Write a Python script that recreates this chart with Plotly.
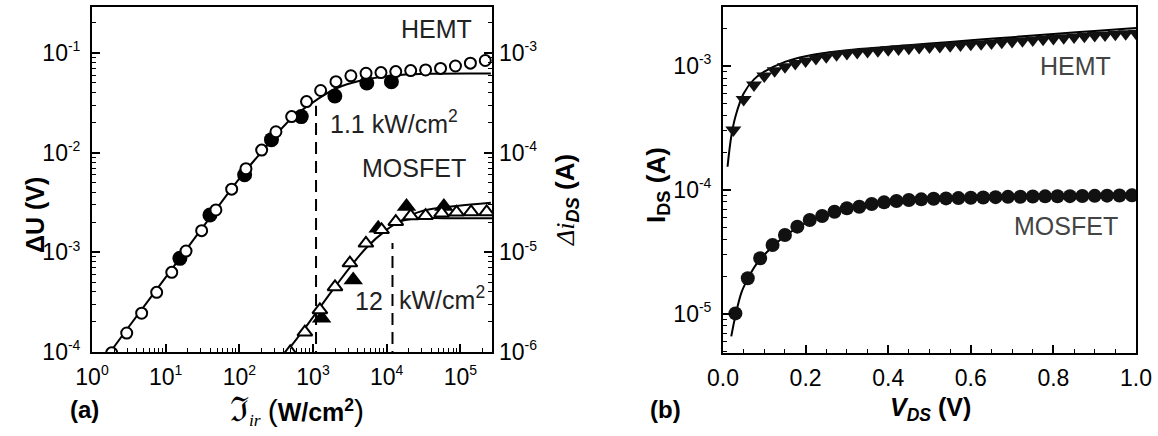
import plotly.graph_objects as go

# ---------------- Panel (a) data ----------------
hemt_open_x = [1.85, 2.96, 4.72, 7.55, 12.1, 18.9, 30.8, 48.1, 78.7, 123, 201, 314, 513, 817,
               1270, 2050, 3270, 5250, 8370, 13300, 21200, 33800, 53900, 85900, 1.37e5, 2.18e5]
hemt_open_y = [9.8e-5, 1.55e-4, 2.45e-4, 3.97e-4, 6.3e-4, 1.03e-3, 1.65e-3, 2.66e-3, 4.3e-3, 6.9e-3,
               1.06e-2, 1.62e-2, 2.3e-2, 3.25e-2, 4.2e-2, 5.15e-2, 5.9e-2, 6.25e-2, 6.35e-2, 6.5e-2,
               6.65e-2, 6.75e-2, 7.0e-2, 7.4e-2, 7.9e-2, 8.4e-2]
hemt_filled_x = [15.6, 39.9, 118, 273, 693, 1980, 5380, 11600]
hemt_filled_y = [8.7e-4, 2.37e-3, 6.0e-3, 1.35e-2, 2.3e-2, 3.7e-2, 5.0e-2, 5.15e-2]
hemt_fit_x = [1.2, 1.42, 3, 10, 30, 100, 201, 513, 1120, 2050, 5330, 15100, 47600, 2.6e5]
hemt_fit_y = [6.7e-5, 8.0e-5, 1.7e-4, 5.6e-4, 1.68e-3, 5.5e-3, 1.02e-2, 2.21e-2, 3.38e-2, 4.4e-2,
              5.44e-2, 6.02e-2, 6.2e-2, 6.22e-2]

mos_open_x = [490, 776, 1240, 1990, 3170, 5230, 8530, 13300, 21200, 33800, 55700, 88900, 1.4e5, 2.28e5]
mos_open_y = [1.0e-6, 1.58e-6, 2.64e-6, 4.5e-6, 7.8e-6, 1.23e-5, 1.68e-5, 2.03e-5, 2.32e-5, 2.33e-5,
              2.47e-5, 2.52e-5, 2.54e-5, 2.54e-5]
mos_filled_x = [1310, 3515, 7680, 18600, 59800]
mos_filled_y = [2.18e-6, 5.28e-6, 1.74e-5, 2.88e-5, 2.88e-5]
mos_fit_x = [380, 438, 776, 1990, 5230, 9960, 15100, 25500, 60000, 2.7e5]
mos_fit_y = [8.5e-7, 1.0e-6, 1.73e-6, 4.5e-6, 1.1e-5, 1.68e-5, 2.03e-5, 2.19e-5, 2.2e-5, 2.2e-5]
mos_fit2_x = [15100, 20000, 31300, 88900, 2.6e5]
mos_fit2_y = [2.03e-5, 2.3e-5, 2.62e-5, 2.92e-5, 3.15e-5]

sat_hemt = 1100      # W/cm^2
sat_mos = 12000      # W/cm^2
sat_hemt_top = 2.95e-2
sat_mos_top = 1.24e-3
y_bottom = 5e-5

# ---------------- Panel (b) data ----------------
hemt_v = [0.025, 0.05, 0.075, 0.1, 0.125, 0.15, 0.175, 0.2, 0.225, 0.25, 0.275, 0.3, 0.325, 0.35,
          0.375, 0.4, 0.425, 0.45, 0.475, 0.5, 0.525, 0.55, 0.575, 0.6, 0.625, 0.65, 0.675, 0.7,
          0.725, 0.75, 0.775, 0.8, 0.825, 0.85, 0.875, 0.9, 0.925, 0.95, 0.975, 1.0]
hemt_i = [3.05e-4, 5.38e-4, 7.03e-4, 8.3e-4, 9.16e-4, 9.88e-4, 1.05e-3, 1.10e-3, 1.15e-3, 1.19e-3,
          1.23e-3, 1.26e-3, 1.285e-3, 1.31e-3, 1.33e-3, 1.35e-3, 1.37e-3, 1.39e-3, 1.41e-3, 1.425e-3,
          1.44e-3, 1.46e-3, 1.475e-3, 1.495e-3, 1.51e-3, 1.535e-3, 1.555e-3, 1.58e-3, 1.60e-3, 1.62e-3,
          1.645e-3, 1.665e-3, 1.69e-3, 1.715e-3, 1.74e-3, 1.76e-3, 1.78e-3, 1.80e-3, 1.82e-3, 1.84e-3]
hemt_fit_v = [0.011, 0.02, 0.03, 0.05, 0.075, 0.1, 0.15, 0.2, 0.3, 0.4, 0.5, 0.6, 0.7, 0.8, 0.9, 1.0]
hemt_fit_i = [1.54e-4, 2.7e-4, 3.9e-4, 6.0e-4, 7.8e-4, 9.0e-4, 1.08e-3, 1.2e-3, 1.34e-3, 1.43e-3,
              1.52e-3, 1.61e-3, 1.71e-3, 1.81e-3, 1.92e-3, 2.03e-3]

mos_v = [0.03, 0.06, 0.09, 0.12, 0.15, 0.18, 0.21, 0.24, 0.27, 0.30, 0.33, 0.36, 0.39, 0.42, 0.45,
         0.48, 0.51, 0.54, 0.57, 0.60, 0.63, 0.66, 0.69, 0.72, 0.75, 0.78, 0.81, 0.84, 0.87, 0.90,
         0.93, 0.96, 0.99]
mos_i = [1.01e-5, 1.94e-5, 2.81e-5, 3.6e-5, 4.33e-5, 5.06e-5, 5.73e-5, 6.17e-5, 6.68e-5, 7.12e-5,
         7.33e-5, 7.7e-5, 7.95e-5, 8.14e-5, 8.3e-5, 8.4e-5, 8.5e-5, 8.55e-5, 8.6e-5, 8.65e-5,
         8.7e-5, 8.75e-5, 8.8e-5, 8.82e-5, 8.85e-5, 8.88e-5, 8.9e-5, 8.92e-5, 8.95e-5, 8.97e-5,
         9.0e-5, 9.02e-5, 9.05e-5]
mos_fit_v = [0.02, 0.031, 0.045, 0.061, 0.08, 0.1, 0.13, 0.16, 0.2, 0.25, 0.3, 0.4, 0.5, 0.6, 0.8, 1.0]
mos_fit_i = [6.6e-6, 1.0e-5, 1.5e-5, 1.95e-5, 2.5e-5, 3.0e-5, 3.75e-5, 4.5e-5, 5.4e-5, 6.3e-5,
             7.0e-5, 7.9e-5, 8.4e-5, 8.65e-5, 8.9e-5, 9.05e-5]


def pow_label(e):
    return "10<sup><span style='font-size:14px'>%d</span></sup>" % e


xa_ticks = [1, 10, 100, 1e3, 1e4, 1e5]
xa_text = [pow_label(i) for i in range(6)]
ya_ticks = [1e-4, 1e-3, 1e-2, 1e-1]
ya_text = [pow_label(i) for i in (-4, -3, -2, -1)]
y2_ticks = [1e-6, 1e-5, 1e-4, 1e-3]
y2_text = [pow_label(i) for i in (-6, -5, -4, -3)]
yb_ticks = [1e-5, 1e-4, 1e-3]
yb_text = [pow_label(i) for i in (-5, -4, -3)]
xb_ticks = [0.0, 0.2, 0.4, 0.6, 0.8, 1.0]
xb_text = ["0.0", "0.2", "0.4", "0.6", "0.8", "1.0"]


def minor_log(d0, d1):
    return [k * 10.0 ** d for d in range(d0, d1 + 1) for k in range(2, 10)]


FONT = "Liberation Sans, Arial, sans-serif"
fig = go.Figure()

line = dict(color="black", width=2, shape="spline")
# panel (a)
fig.add_trace(go.Scatter(x=hemt_fit_x, y=hemt_fit_y, mode="lines", line=line, xaxis="x", yaxis="y"))
fig.add_trace(go.Scatter(x=[sat_hemt, sat_hemt], y=[y_bottom, sat_hemt_top], mode="lines",
                         line=dict(color="black", width=2, dash="12px,7px"), xaxis="x", yaxis="y"))
fig.add_trace(go.Scatter(x=[sat_mos, sat_mos], y=[y_bottom, sat_mos_top], mode="lines",
                         line=dict(color="black", width=2, dash="12px,7px"), xaxis="x", yaxis="y"))
fig.add_trace(go.Scatter(x=hemt_filled_x, y=hemt_filled_y, mode="markers",
                         marker=dict(symbol="circle", size=15, color="black"), xaxis="x", yaxis="y"))
fig.add_trace(go.Scatter(x=hemt_open_x, y=hemt_open_y, mode="markers",
                         marker=dict(symbol="circle", size=11, color="white",
                                     line=dict(color="black", width=2)), xaxis="x", yaxis="y"))
fig.add_trace(go.Scatter(x=mos_fit_x, y=mos_fit_y, mode="lines", line=line, xaxis="x", yaxis="y2"))
fig.add_trace(go.Scatter(x=mos_fit2_x, y=mos_fit2_y, mode="lines", line=line, xaxis="x", yaxis="y2"))
fig.add_trace(go.Scatter(x=mos_filled_x, y=mos_filled_y, mode="markers",
                         marker=dict(symbol="triangle-up", size=17, color="black"), xaxis="x", yaxis="y2"))
fig.add_trace(go.Scatter(x=mos_open_x, y=mos_open_y, mode="markers",
                         marker=dict(symbol="triangle-up", size=13, color="white",
                                     line=dict(color="black", width=2)), xaxis="x", yaxis="y2"))
# panel (b)
fig.add_trace(go.Scatter(x=hemt_fit_v, y=hemt_fit_i, mode="lines", line=line, xaxis="x2", yaxis="y3"))
fig.add_trace(go.Scatter(x=mos_fit_v, y=mos_fit_i, mode="lines", line=line, xaxis="x2", yaxis="y3"))
fig.add_trace(go.Scatter(x=hemt_v, y=hemt_i, mode="markers",
                         marker=dict(symbol="triangle-down", size=14, color="#111"), xaxis="x2", yaxis="y3"))
fig.add_trace(go.Scatter(x=mos_v, y=mos_i, mode="markers",
                         marker=dict(symbol="circle", size=14, color="#111"), xaxis="x2", yaxis="y3"))

tickfont = dict(family=FONT, size=23, color="black")
common = dict(showline=True, linecolor="black", linewidth=2, ticks="inside", ticklen=8,
              tickwidth=1.5, tickcolor="black", showgrid=False, zeroline=False, tickfont=tickfont,
              automargin=False)
minor_common = dict(ticks="inside", ticklen=4, tickwidth=1.2, tickcolor="black", showgrid=False)

W, H = 1158, 436


def dx(x):
    return min(1.0, max(0.0, x / W))


def dy(y):
    return min(1.0, max(0.0, 1 - y / H))


fig.update_layout(
    template="none",
    width=W, height=H, margin=dict(l=0, r=0, t=0, b=0, pad=0), autosize=False,
    paper_bgcolor="white", plot_bgcolor="white", showlegend=False,
    xaxis=dict(type="log", range=[0, 5.43], domain=[dx(92), dx(492)], anchor="y", mirror=True,
               tickmode="array", tickvals=xa_ticks, ticktext=xa_text, ticklabelstandoff=3,
               minor=dict(tickmode="array", tickvals=minor_log(0, 5), **minor_common), **common),
    yaxis=dict(type="log", range=[-4, -0.539], domain=[dy(352), dy(7)], anchor="x", mirror=True,
               tickmode="array", tickvals=ya_ticks, ticktext=ya_text, ticklabelstandoff=5,
               minor=dict(tickmode="array", tickvals=minor_log(-5, -1), **minor_common), **common),
    yaxis2=dict(type="log", range=[-6, -2.539], overlaying="y", side="right", anchor="x",
                tickmode="array", tickvals=y2_ticks, ticktext=y2_text, ticklabelstandoff=6,
                minor=dict(tickmode="array", tickvals=minor_log(-7, -3), **minor_common),
                **{**common, "showline": False}),
    xaxis2=dict(range=[0, 1], domain=[dx(723), dx(1136)], anchor="y3", mirror=True,
                tickmode="array", tickvals=xb_ticks, ticktext=xb_text, ticklabelstandoff=3,
                minor=dict(tickmode="linear", tick0=0, dtick=0.05, **minor_common), **common),
    yaxis3=dict(type="log", range=[-5.315, -2.524], domain=[dy(353), dy(7)], anchor="x2",
                mirror=True, tickmode="array", tickvals=yb_ticks, ticktext=yb_text, ticklabelstandoff=5,
                minor=dict(tickmode="array", tickvals=minor_log(-6, -3), **minor_common), **common),
)

ann = []


def add(text, x, y, size=25, color="#222", xanchor="center", angle=0, family=FONT):
    ann.append(dict(text=text, x=dx(x), y=dy(y), xref="paper", yref="paper", showarrow=False,
                    xanchor=xanchor, yanchor="middle", textangle=angle,
                    font=dict(family=family, size=size, color=color)))


add("HEMT", 436, 29)
add("1.1 kW/cm<sup>2</sup>", 328, 122, xanchor="left")
add("MOSFET", 468, 168, xanchor="right")
add("12", 369, 301)
add("kW/cm<sup>2</sup>", 397, 298, xanchor="left")
add("HEMT", 1075, 66, color="#444")
add("MOSFET", 1066, 226, color="#444")
add("<b>(a)</b>", 84, 409, size=24, color="black")
add("<b>(b)</b>", 665, 409, size=24, color="black")
add("<span style='font-family:Liberation Serif;font-size:34px'>\u2111</span>"
    "<sub><span style='font-family:Liberation Serif'><i>ir</i></span></sub> "
    "<span style='font-size:30px'>(</span><b>W/cm<sup>2</sup></b><span style='font-size:30px'>)</span>",
    297, 410, size=25, color="black")
add("<b><i>V</i><sub><i>DS</i></sub> (V)</b>", 930, 409, size=25, color="black")
add("<b>\u0394U (V)</b>", 35, 215, size=25, color="black", angle=-90)
add("<span style='font-family:Liberation Serif'><i>\u0394i</i></span><sub><b><i>DS</i></b></sub><b> (A)</b>",
    566, 200, size=26, color="black", angle=-90)
add("<b>I<sub>DS</sub> (A)</b>", 657, 185, size=26, color="black", angle=-90)
fig.update_layout(annotations=ann)

# remove the default 8 px page margin so the figure fills the window exactly
fig.write_html("out.html", config={"displayModeBar": False},
               post_script="document.body.style.margin='0px';document.body.style.overflow='hidden';")
